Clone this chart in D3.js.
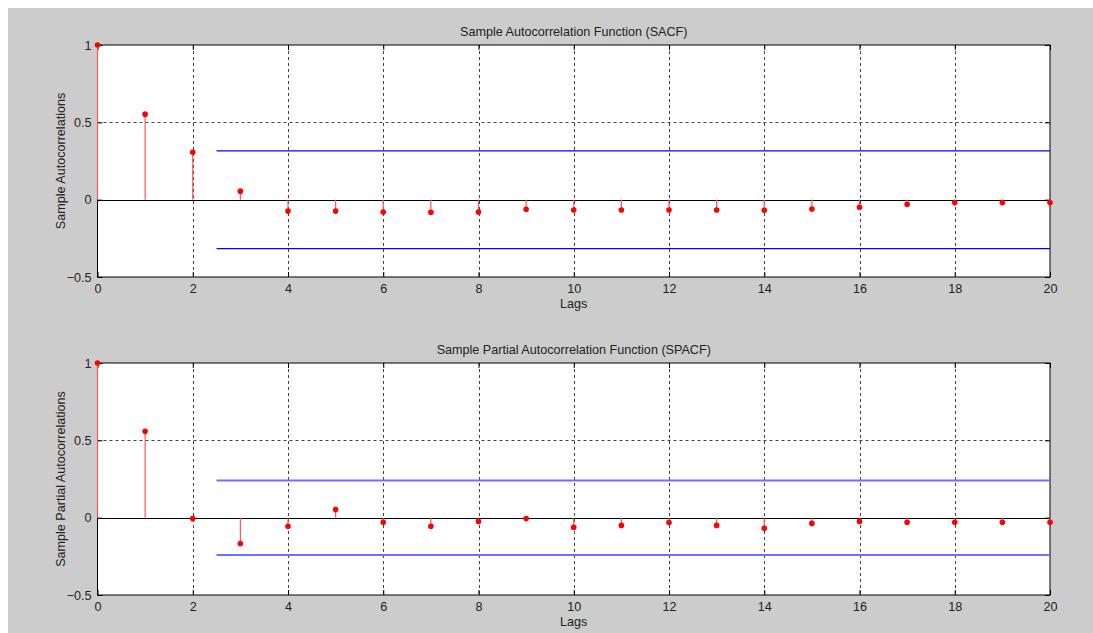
<!DOCTYPE html>
<html>
<head>
<meta charset="utf-8">
<script src="https://cdn.jsdelivr.net/npm/d3@7"></script>
<style>
  html, body { margin: 0; padding: 0; background: #fff; }
  text { font-family: "Liberation Sans", Arial, sans-serif; fill: #222; }
</style>
</head>
<body>
<div id="chart"></div>
<script>
// data
const lags = d3.range(0, 21);
const sacf = [1, 0.553, 0.307, 0.055, -0.074, -0.074, -0.080, -0.081, -0.080, -0.062,
    -0.067, -0.067, -0.067, -0.067, -0.068, -0.060, -0.049, -0.030, -0.019, -0.019, -0.019];
const spacf = [1, 0.558, -0.006, -0.167, -0.056, 0.052, -0.030, -0.056, -0.024, -0.006,
    -0.063, -0.050, -0.031, -0.050, -0.069, -0.037, -0.024, -0.030, -0.030, -0.030, -0.030];
const sacfBound = 0.316;
const spacfBound = 0.241;
const boundStart = 2.5;
const xTicks = [0, 2, 4, 6, 8, 10, 12, 14, 16, 18, 20];
const yTicks = [-0.5, 0, 0.5, 1];

// layout
const width = 1093;
const height = 633;
const fontSize = 12.6;

const svg = d3.select("#chart")
    .append("svg")
        .attr("width", width)
        .attr("height", height);

// figure background
svg.append("rect")
    .attr("x", 8).attr("y", 8)
    .attr("width", width - 8).attr("height", height - 8)
    .attr("fill", "#cccccc");

const panels = [
    {title: "Sample Autocorrelation Function (SACF)", ylabel: "Sample Autocorrelations",
     values: sacf, bound: sacfBound, top: 45, bottom: 277, boundColor: "#0000ff", boundWidth: 1.2},
    {title: "Sample Partial Autocorrelation Function (SPACF)", ylabel: "Sample Partial Autocorrelations",
     values: spacf, bound: spacfBound, top: 363, bottom: 595, boundColor: "#7070ff", boundWidth: 2}
];

const left = 97.5;
const right = 1050;

panels.forEach(p => drawPanel(p));

function drawPanel(p) {
    const x = d3.scaleLinear().domain([0, 20]).range([left, right]);
    const y = d3.scaleLinear().domain([-0.5, 1]).range([p.bottom, p.top]);
    const g = svg.append("g");

    // axes area
    g.append("rect")
        .attr("x", left).attr("y", p.top)
        .attr("width", right - left).attr("height", p.bottom - p.top)
        .attr("fill", "#fff");

    // grid
    g.selectAll(".vgrid")
        .data(xTicks.filter(d => d > 0 && d < 20))
        .join("line")
            .attr("x1", d => Math.round(x(d)) + 0.5).attr("x2", d => Math.round(x(d)) + 0.5)
            .attr("y1", p.top).attr("y2", p.bottom)
            .attr("stroke", "#444").attr("stroke-width", 1)
            .attr("stroke-dasharray", "3,3");

    g.append("line")
        .attr("x1", left).attr("x2", right)
        .attr("y1", Math.round(y(0.5)) + 0.5).attr("y2", Math.round(y(0.5)) + 0.5)
        .attr("stroke", "#444").attr("stroke-dasharray", "3,3");

    // zero line
    g.append("line")
        .attr("x1", left).attr("x2", right)
        .attr("y1", Math.round(y(0)) + 0.5).attr("y2", Math.round(y(0)) + 0.5)
        .attr("stroke", "#000");

    // box
    g.append("rect")
        .attr("x", left).attr("y", p.top)
        .attr("width", right - left).attr("height", p.bottom - p.top)
        .attr("fill", "none").attr("stroke", "#000").attr("stroke-width", 1);

    // ticks (inside)
    g.append("g")
        .attr("transform", `translate(0, ${p.bottom})`)
        .call(d3.axisBottom(x).tickValues(xTicks).tickSizeInner(-5).tickSizeOuter(0).tickPadding(7))
        .call(a => a.select(".domain").remove())
        .call(a => a.selectAll("text").attr("font-size", fontSize).attr("fill", "#222")
            .attr("font-family", "Liberation Sans, Arial, sans-serif"));

    g.append("g")
        .attr("transform", `translate(0, ${p.top})`)
        .call(d3.axisTop(x).tickValues(xTicks).tickSizeInner(-5).tickSizeOuter(0).tickFormat(""))
        .call(a => a.select(".domain").remove());

    g.append("g")
        .attr("transform", `translate(${left}, 0)`)
        .call(d3.axisLeft(y).tickValues(yTicks).tickSizeInner(-5).tickSizeOuter(0).tickPadding(6)
            .tickFormat(d3.format("")))
        .call(a => a.select(".domain").remove())
        .call(a => a.selectAll("text").attr("font-size", fontSize).attr("fill", "#222")
            .attr("font-family", "Liberation Sans, Arial, sans-serif"));

    g.append("g")
        .attr("transform", `translate(${right}, 0)`)
        .call(d3.axisRight(y).tickValues(yTicks).tickSizeInner(-5).tickSizeOuter(0).tickFormat(""))
        .call(a => a.select(".domain").remove());

    // confidence bounds
    [p.bound, -p.bound].forEach(b => {
        g.append("line")
            .attr("x1", x(boundStart)).attr("x2", right)
            .attr("y1", y(b)).attr("y2", y(b))
            .attr("stroke", p.boundColor).attr("stroke-width", p.boundWidth);
    });

    // stems
    g.selectAll(".stem")
        .data(p.values)
        .join("line")
            .attr("x1", (d, i) => x(lags[i])).attr("x2", (d, i) => x(lags[i]))
            .attr("y1", y(0)).attr("y2", d => y(d))
            .attr("stroke", "#ff5555").attr("stroke-width", 1.2);

    g.selectAll(".dot")
        .data(p.values)
        .join("circle")
            .attr("cx", (d, i) => x(lags[i]))
            .attr("cy", d => y(d))
            .attr("r", 2.8)
            .attr("fill", "#ff0000");

    // title and labels
    g.append("text")
        .attr("x", (left + right) / 2).attr("y", p.top - 9)
        .attr("text-anchor", "middle").attr("font-size", fontSize)
        .text(p.title);

    g.append("text")
        .attr("x", (left + right) / 2).attr("y", p.bottom + 31)
        .attr("text-anchor", "middle").attr("font-size", fontSize)
        .text("Lags");

    g.append("text")
        .attr("transform", `translate(65, ${(p.top + p.bottom) / 2}) rotate(-90)`)
        .attr("text-anchor", "middle").attr("font-size", fontSize)
        .text(p.ylabel);
}
</script>
</body>
</html>
